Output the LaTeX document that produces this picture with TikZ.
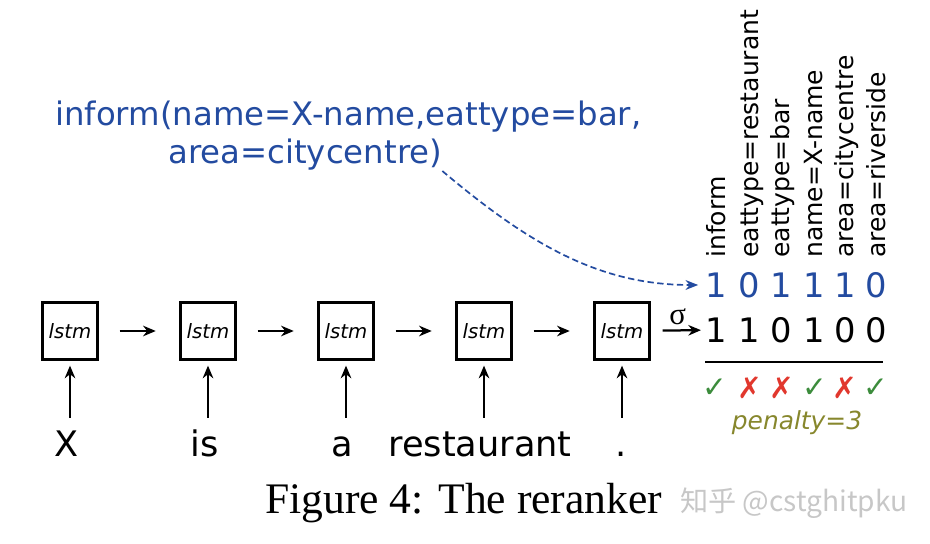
\documentclass[tikz,border=0pt]{standalone}
\usepackage{fontspec}
\setmainfont{DejaVu Sans}
\newfontfamily\capfont{Liberation Serif}
\newfontfamily\cjkfont{Noto Sans CJK SC}
\usetikzlibrary{arrows.meta}
\definecolor{actblue}{RGB}{35,75,160}
\definecolor{okgreen}{RGB}{60,140,60}
\definecolor{badred}{RGB}{225,55,45}
\definecolor{penolive}{RGB}{135,135,45}
\tikzset{
	lstmbox/.style={draw,line width=1.6pt,minimum width=1.375cm,minimum height=1.425cm,inner sep=0pt,font=\fontsize{14}{16}\selectfont\itshape},
	word/.style={anchor=base,inner sep=0pt,font=\fontsize{25}{30}\selectfont},
	slot/.style={rotate=90,anchor=base west,inner sep=0pt,font=\fontsize{17.8}{20}\selectfont},
	bit/.style={inner sep=0pt,font=\fontsize{24}{28}\selectfont},
	verdict/.style={inner sep=0pt,font=\fontsize{21}{24}\selectfont},
	flow/.style={line width=1.6pt,-{Stealth[length=9pt,width=7.5pt]}},
}
\begin{document}
\begin{tikzpicture}[x=0.025cm,y=-0.025cm]
	\useasboundingbox (0,0) rectangle (930,544);
	% dialogue act
	\node[anchor=base west,inner sep=0pt,text=actblue,font=\fontsize{23}{28}\selectfont] (act1) at (55,126) {inform(name=X-name,eattype=bar,};
	\node[anchor=base west,inner sep=0pt,text=actblue,font=\fontsize{23}{28}\selectfont] (act2) at (168,164) {area=citycentre)};
	% lstm chain
	\node[lstmbox] (l1) at (70,331) {lstm};
	\node[lstmbox] (l2) at (208,331) {lstm};
	\node[lstmbox] (l3) at (346,331) {lstm};
	\node[lstmbox] (l4) at (484,331) {lstm};
	\node[lstmbox] (l5) at (622,331) {lstm};
	\draw[flow,shorten <=0.525cm,shorten >=0.59cm] (l1) -- (l2);
	\draw[flow,shorten <=0.525cm,shorten >=0.59cm] (l2) -- (l3);
	\draw[flow,shorten <=0.525cm,shorten >=0.59cm] (l3) -- (l4);
	\draw[flow,shorten <=0.525cm,shorten >=0.59cm] (l4) -- (l5);
	% input words
	\node[word] (w1) at (67,457) {X};
	\node[word] (w2) at (205,457) {is};
	\node[word] (w3) at (342,457) {a};
	\node[word] (w4) at (480,457) {restaurant};
	\node[word] (w5) at (621,457) {.};
	\coordinate (in1) at (70,418);
	\coordinate (in2) at (208,418);
	\coordinate (in3) at (346,418);
	\coordinate (in4) at (484,418);
	\coordinate (in5) at (622,418);
	\draw[flow,shorten >=0.125cm] (in1) -- (l1);
	\draw[flow,shorten >=0.125cm] (in2) -- (l2);
	\draw[flow,shorten >=0.125cm] (in3) -- (l3);
	\draw[flow,shorten >=0.125cm] (in4) -- (l4);
	\draw[flow,shorten >=0.125cm] (in5) -- (l5);
	% slot names
	\node[slot] (n1) at (725,258) {inform};
	\node[slot] (n2) at (758,258) {eattype=restaurant};
	\node[slot] (n3) at (789,258) {eattype=bar};
	\node[slot] (n4) at (822,258) {name=X-name};
	\node[slot] (n5) at (853,258) {area=citycentre};
	\node[slot] (n6) at (885,258) {area=riverside};
	% target and predicted bits
	\node[bit,text=actblue] (b1) at (716,285) {1};
	\node[bit,text=actblue] (b2) at (749,285) {0};
	\node[bit,text=actblue] (b3) at (781,285) {1};
	\node[bit,text=actblue] (b4) at (814,285) {1};
	\node[bit,text=actblue] (b5) at (845,285) {1};
	\node[bit,text=actblue] (b6) at (876,285) {0};
	\node[bit] (k1) at (716,330) {1};
	\node[bit] (k2) at (749,330) {1};
	\node[bit] (k3) at (781,330) {0};
	\node[bit] (k4) at (814,330) {1};
	\node[bit] (k5) at (845,330) {0};
	\node[bit] (k6) at (876,330) {0};
	\draw[line width=1.5pt] (705,362) -- (883,362);
	\node[verdict,text=okgreen] (v1) at (715,388) {✓};
	\node[verdict,text=badred] (v2) at (750,388) {✗};
	\node[verdict,text=badred] (v3) at (782,388) {✗};
	\node[verdict,text=okgreen] (v4) at (815,388) {✓};
	\node[verdict,text=badred] (v5) at (845,388) {✗};
	\node[verdict,text=okgreen] (v6) at (876,388) {✓};
	\node[inner sep=0pt,text=penolive,font=\fontsize{17.7}{20}\selectfont\itshape] (pen) at (797,423) {penalty=3};
	% connectors into the bits
	\draw[flow,shorten <=0.3cm,shorten >=0.1cm] (l5) -- node[above=3pt,inner sep=0pt,font=\capfont\fontsize{22}{24}\selectfont] (sig) {σ} (k1);
	\draw[actblue,line width=1.2pt,dash pattern=on 4.5pt off 2.5pt,-{Stealth[length=9pt,width=7pt]},shorten >=0.17cm]
		(act2.south east) .. controls (530,245) and (600,285) .. (b1.west);
	% caption
	\node[anchor=base west,inner sep=0pt,font=\capfont\fontsize{31}{36}\selectfont] (cap) at (265,514) {Figure 4: The reranker};
	\node[anchor=base west,inner sep=0pt,text=black!22,font=\cjkfont\fontsize{20}{24}\selectfont] (wm) at (680,512) {知乎 @cstghitpku};
\end{tikzpicture}
\end{document}
